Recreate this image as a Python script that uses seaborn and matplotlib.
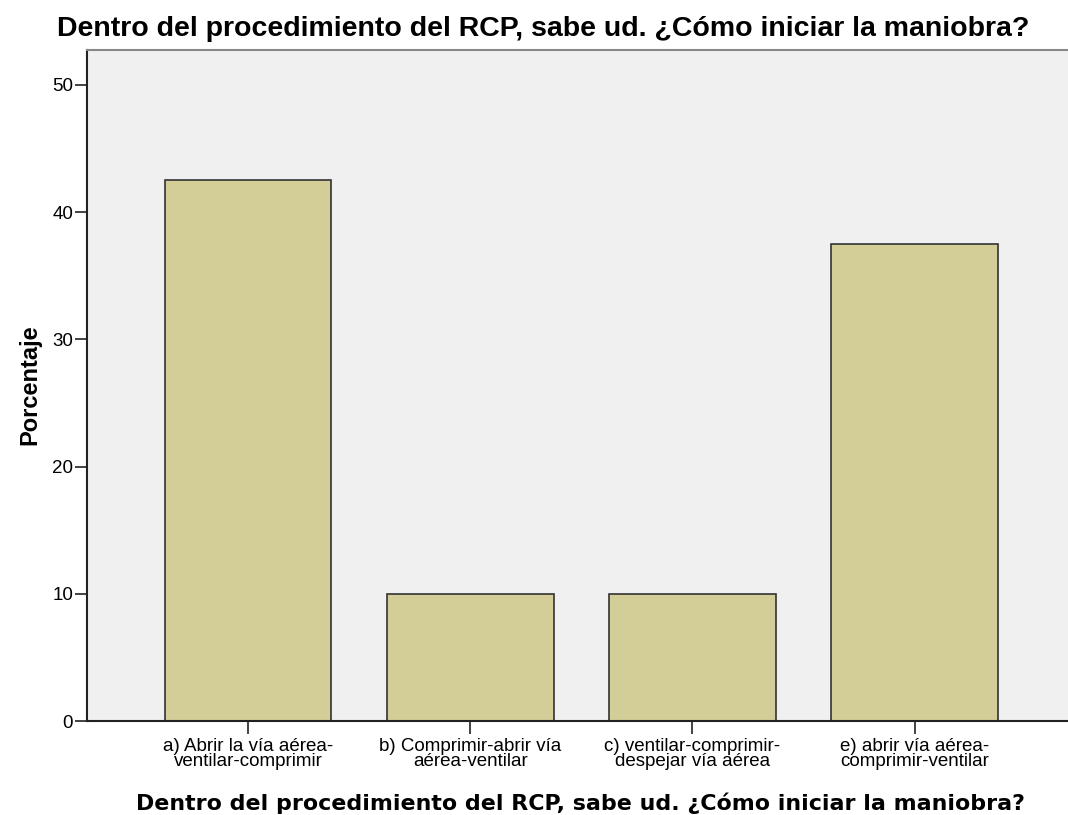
import matplotlib
matplotlib.use('Agg')
import matplotlib.pyplot as plt
import seaborn as sns

# Datos
categorias = ['a) Abrir la vía aérea-\nventilar-comprimir',
              'b) Comprimir-abrir vía\naérea-ventilar',
              'c) ventilar-comprimir-\ndespejar vía aérea',
              'e) abrir vía aérea-\ncomprimir-ventilar']
porcentajes = [42.5, 10.0, 10.0, 37.5]
ticks_y = [0, 10, 20, 30, 40, 50]

titulo = 'Dentro del procedimiento del RCP, sabe ud. ¿Cómo iniciar la maniobra?'

sns.set_style('white')
plt.rcParams['font.family'] = ['Liberation Sans', 'DejaVu Sans']
plt.rcParams['text.color'] = 'black'

fig = plt.figure(figsize=(10.68, 8.15), dpi=100)
ax = fig.add_axes([87/1068, 94/815, 1 - 87/1068, 671/815])
ax.set_facecolor('#f0f0f0')

sns.barplot(x=categorias, y=porcentajes, color='#d3ce97', edgecolor='#333333',
            linewidth=1.2, width=0.75, saturation=1, ax=ax)

ax.set_xlim(-0.725, 3.69)
ax.set_ylim(0, 52.75)
ax.set_yticks(ticks_y)
ax.tick_params(axis='both', direction='out', length=9, width=1.2, color='#222222',
               labelsize=13.5, labelcolor='black', left=True, bottom=True)
ax.tick_params(axis='x', pad=3)
ax.tick_params(axis='y', pad=1)
for lab in ax.get_xticklabels():
    lab.set_linespacing(0.88)

for s in ['left', 'bottom']:
    ax.spines[s].set_color('#222222')
    ax.spines[s].set_linewidth(1.5)
ax.spines['top'].set_color('#888888')
ax.spines['top'].set_linewidth(1.5)
ax.spines['right'].set_visible(False)

ax.set_xlabel('')
ax.set_ylabel('')
fig.text(543/1068, 1 - 29/815, titulo, ha='center', va='center',
         fontsize=20.5, fontweight='bold')
fig.text(580/1068, 1 - 803/815, titulo, ha='center', va='center',
         fontsize=15.9, fontweight='bold', family='DejaVu Sans')
fig.text(30/1068, 1 - 385/815, 'Porcentaje', ha='center', va='center',
         rotation=90, fontsize=17, fontweight='bold')

fig.savefig('out.png', dpi=100)
